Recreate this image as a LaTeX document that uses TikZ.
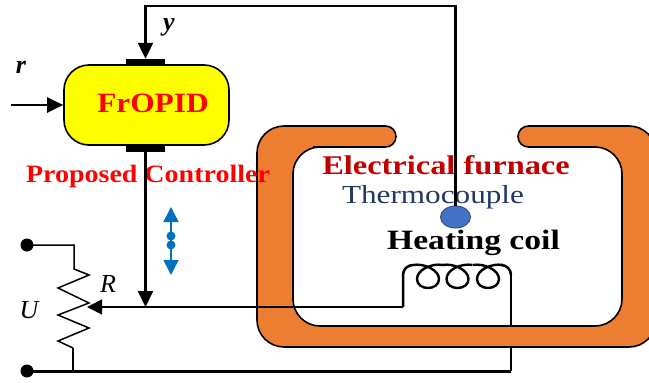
\documentclass[tikz,border=0pt]{standalone}
\usepackage{fontspec}
\setmainfont{Liberation Serif}
\newfontfamily\wideserif[FakeStretch=1.12]{Liberation Serif}
\newfontfamily\widerserif[FakeStretch=1.2]{Liberation Serif}
\usetikzlibrary{shapes,arrows.meta,positioning,calc}
\definecolor{ctrlred}{RGB}{255,0,0}
\definecolor{ctrlyellow}{RGB}{255,255,0}
\definecolor{furnaceorange}{RGB}{237,125,49}
\definecolor{furnacered}{RGB}{192,0,0}
\definecolor{tcnavy}{RGB}{31,56,100}
\definecolor{tcblue}{RGB}{68,114,196}
\definecolor{tcedge}{RGB}{47,82,143}
\definecolor{updownblue}{RGB}{0,112,192}

\begin{document}
\begin{tikzpicture}[x=1pt, y=-1pt,
    wire/.style={draw=black, line width=2.2pt},
    sigarrow/.style={wire, -{Triangle[length=16pt, width=15pt]}},
    port/.style={rectangle, fill=black, minimum width=39pt, minimum height=7pt, inner sep=0pt},
    terminal/.style={circle, fill=black, minimum size=13pt, inner sep=0pt},
    bluedot/.style={circle, fill=updownblue, minimum size=9pt, inner sep=0pt},
    varlabel/.style={inner sep=0pt, font=\fontsize{26}{30}\selectfont\itshape},
    boldvar/.style={inner sep=0pt, font=\fontsize{26}{30}\selectfont\bfseries\itshape}]
\useasboundingbox (0,0) rectangle (649,383);
% coil leg runs behind the furnace wall
\coordinate (coilright) at (511,275);
\coordinate (busend) at (511,371);
\draw[line width=2.5pt] (coilright) -- (busend);
% furnace wall with the opening on top
\draw[fill=furnaceorange, line width=1.6pt, rounded corners=27pt]
    (300,126) -- (257,126) -- (257,347) -- (656,347) -- (656,126) -- (600,126)
    [rounded corners=10.4pt] -- (518,126) -- (518,147) -- (560,147)
    [rounded corners=27pt] -- (622,147) -- (622,326) -- (293,326) -- (293,147) -- (340,147)
    [rounded corners=10.4pt] -- (396,147) -- (396,126) -- (360,126)
    [sharp corners] -- cycle;
% controller
\node[draw=black, line width=1.6pt, fill=ctrlyellow, rounded corners=25pt, minimum width=165pt,
      minimum height=80pt, inner sep=0pt] (ctrl) at (146.5,105) {};
\node[text=ctrlred, inner sep=0pt, font=\fontsize{28}{32}\selectfont\wideserif\bfseries] (ctrltxt) at (153,103.5) {FrOPID};
\node[port] (ptop) at (145.5,62.5) {};
\node[port] (pbot) at (145.5,148) {};
\node[inner sep=0pt, text=ctrlred, font=\fontsize{25}{28}\selectfont\wideserif\bfseries] (proposed) at (148,176) {Proposed Controller};
% setpoint and feedback
\coordinate (rstart) at (11,105);
\draw[sigarrow] (rstart) -- (ctrl.west);
\node[boldvar] (rlab) at (21,67) {r};
\node[boldvar] (ylab) at (169,27) {y};
\node[inner sep=0pt, text=furnacered, font=\fontsize{27}{30}\selectfont\widerserif\bfseries] (furntxt) at (446,165) {Electrical furnace};
\node[inner sep=0pt, text=tcnavy, font=\fontsize{26}{30}\selectfont\widerserif] (tctxt) at (433,197) {Thermocouple};
\node[inner sep=0pt, font=\fontsize{28}{32}\selectfont\widerserif\bfseries] (coiltxt) at (473.5,243) {Heating coil};
\node[ellipse, draw=tcedge, line width=1pt, fill=tcblue, minimum width=30pt, minimum height=22pt, inner sep=0pt] (tc) at (455.5,217) {};
\coordinate (ycorner) at (455.5,6);
\draw[sigarrow] (tc.north) -- (ycorner) -| (ptop.north);
% coil
\coordinate (coilleft) at (403,307);
\draw[line width=2.5pt, rounded corners=10pt] (coilleft) -- (403,265) -- (413,265);
\draw[line width=2.5pt, rounded corners=10pt] (503,265) -- (511,265) -- (coilright);
\foreach \cx in {428,457.5,488} {
    \draw[line width=2.4pt] (\cx-15,265) .. controls (\cx-4,263) and (\cx+11,270) .. (\cx+11,279)
        .. controls (\cx+11,291) and (\cx-11,291) .. (\cx-11,279)
        .. controls (\cx-11,270) and (\cx+3,263) .. (\cx+15,265);
}
% output to the potentiometer wiper
\coordinate (junc) at (145.5,307);
\coordinate (wiper) at (87,307);
\draw[sigarrow] (pbot.south) -- (junc);
\draw[line width=1.5pt, -{Triangle[length=15pt, width=15pt]}] (coilleft) -- (wiper);
% potentiometer
\node[terminal] (uplus) at (27,245) {};
\node[terminal] (uminus) at (27,371) {};
\draw[line width=1.5pt] (uplus.center) -| (74,269) -- (89,275) -- (58,288) -- (89,303) -- (58,315) -- (89,328) -- (58,341) -- (73,348);
\draw[line width=3pt] (uminus.center) -- (busend);
\coordinate (rbot) at (73,371);
\draw[wire] (73,348) -- (rbot);
\node[varlabel] (rlabel) at (108,284) {R};
\node[varlabel] (ulabel) at (29,310) {U};
% up/down marker
\node[bluedot] (dota) at (171,236) {};
\node[bluedot] (dotb) at (171,245) {};
\coordinate (uptip) at (171,207);
\coordinate (downtip) at (171,275);
\draw[updownblue, line width=1.5pt, {Triangle[length=15pt, width=15pt]}-{Triangle[length=15pt, width=15pt]}] (uptip) -- (downtip);
\end{tikzpicture}
\end{document}
